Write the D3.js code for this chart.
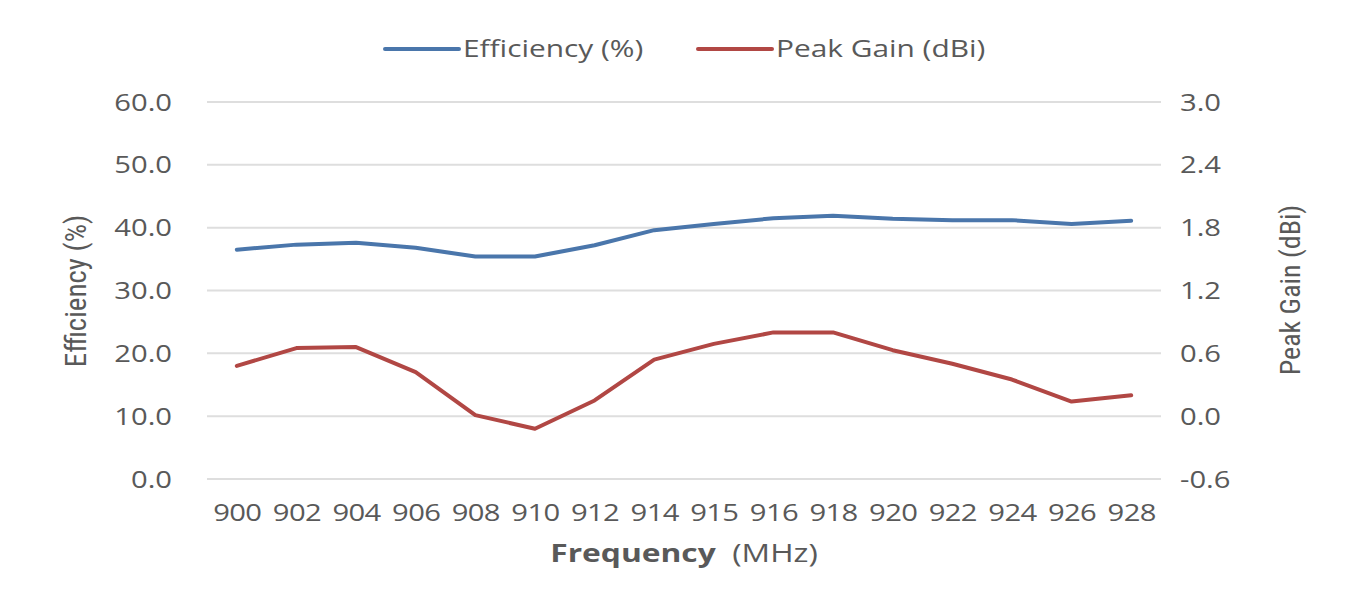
<!DOCTYPE html>
<html><head><meta charset="utf-8">
<script src="https://cdn.jsdelivr.net/npm/d3@7"></script>
<style>
body{margin:0;background:#fff;}
text{font-family:"Open Sans",sans-serif;fill:#595959;}
</style></head>
<body><svg id="c" width="1372" height="591"></svg>
<script>
const categories = ["900","902","904","906","908","910","912","914","915","916","918","920","922","924","926","928"];
const efficiency = [36.5,37.3,37.6,36.8,35.4,35.4,37.2,39.6,40.6,41.5,41.9,41.4,41.2,41.2,40.6,41.1];
const peakGain = [0.48,0.65,0.66,0.42,0.01,-0.12,0.15,0.54,0.69,0.80,0.80,0.63,0.50,0.35,0.14,0.20];
const leftTicks = [0,10,20,30,40,50,60];
const rightTicks = [-0.6,0,0.6,1.2,1.8,2.4,3.0];
const seriesNames = ["Efficiency (%)","Peak Gain (dBi)"];
const colors = ["#4a76ab","#b14744"];

const S = 1.27; // horizontal stretch of the reference's text
const svg = d3.select("#c");
const L=207, R=1161, T=102, B=479;
const x = d3.scalePoint().domain(categories).range([L,R]).padding(0.5);
const yL = d3.scaleLinear().domain([0,60]).range([B,T]);
const yR = d3.scaleLinear().domain([-0.6,3.0]).range([B,T]);
const fmt = d => d3.format(".1f")(d).replace("\u2212","-");

function stretch(sel){
  sel.each(function(){
    const xx = +(this.getAttribute("x")||0);
    this.setAttribute("x", xx/S);
    this.setAttribute("transform", `scale(${S},1)`);
  });
}

// gridlines
svg.append("g").selectAll("line").data(leftTicks).join("line")
  .attr("x1",L).attr("x2",R).attr("y1",d=>yL(d)).attr("y2",d=>yL(d))
  .attr("stroke","#dedede").attr("stroke-width",2);

// left axis
const ga = svg.append("g").attr("transform",`translate(${L},0)`)
  .call(d3.axisLeft(yL).tickValues(leftTicks).tickFormat(fmt).tickSize(0).tickPadding(35));
ga.select(".domain").remove();
ga.selectAll("text").style("font-size","23px").attr("fill","#595959").attr("dy","0.35em").call(stretch);

const gr = svg.append("g").attr("transform",`translate(${R},0)`)
  .call(d3.axisRight(yR).tickValues(rightTicks).tickFormat(fmt).tickSize(0).tickPadding(19));
gr.select(".domain").remove();
gr.selectAll("text").style("font-size","23px").attr("fill","#595959").attr("dy","0.35em").call(stretch);

const gx = svg.append("g").attr("transform",`translate(0,${B})`)
  .call(d3.axisBottom(x).tickSize(0).tickPadding(26));
gx.select(".domain").remove();
gx.selectAll("text").style("font-size","23px").attr("fill","#595959").attr("letter-spacing","-0.5px").call(stretch);

// lines
const lineL = d3.line().x((d,i)=>x(categories[i])).y(d=>yL(d));
const lineR = d3.line().x((d,i)=>x(categories[i])).y(d=>yR(d));
svg.append("path").datum(efficiency).attr("d",lineL).attr("fill","none")
  .attr("stroke",colors[0]).attr("stroke-width",4).attr("stroke-linejoin","round").attr("stroke-linecap","round");
svg.append("path").datum(peakGain).attr("d",lineR).attr("fill","none")
  .attr("stroke",colors[1]).attr("stroke-width",4).attr("stroke-linejoin","round").attr("stroke-linecap","round");

// legend
const legX=[385,698];
seriesNames.forEach((n,i)=>{
  svg.append("line").attr("x1",legX[i]).attr("x2",legX[i]+74).attr("y1",49).attr("y2",49)
    .attr("stroke",colors[i]).attr("stroke-width",4).attr("stroke-linecap","round");
  svg.append("text").attr("transform",`translate(${legX[i]+78},49) scale(${S},1)`).attr("dy","0.35em")
    .style("font-size","23.5px").text(n);
});

// axis titles
svg.append("text").attr("transform","translate(76,291) rotate(-90)").attr("text-anchor","middle")
  .attr("dy","0.35em").style("font-family","'Liberation Sans Narrow','Roboto Condensed',sans-serif")
  .style("font-size","29px").text("Efficiency (%)");
svg.append("text").attr("transform","translate(1290,290) rotate(-90)").attr("text-anchor","middle")
  .attr("dy","0.35em").style("font-family","'Liberation Sans Narrow','Roboto Condensed',sans-serif")
  .style("font-size","28px").text("Peak Gain (dBi)");

const xt = svg.append("text").attr("transform",`translate(684,553) scale(${S},1)`).attr("text-anchor","middle").attr("dy","0.35em")
  .style("font-size","25px").attr("xml:space","preserve");
xt.append("tspan").style("font-weight","bold").text("Frequency");
xt.append("tspan").text("  (MHz)");
</script></body></html>
